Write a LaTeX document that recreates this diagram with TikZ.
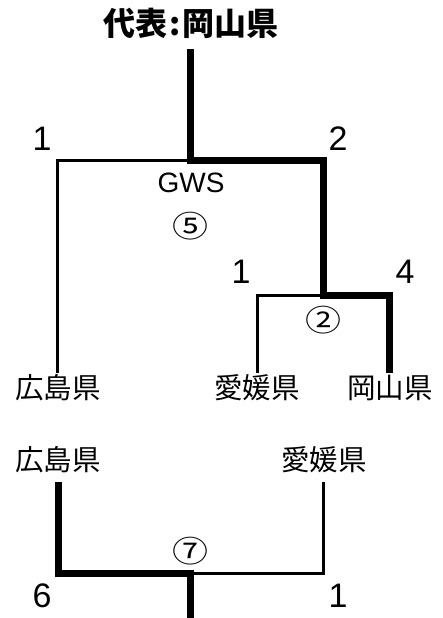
\documentclass[tikz,border=0pt]{standalone}
\usepackage{fontspec}
\setmainfont{Liberation Sans}
\newfontfamily\jp{Noto Sans CJK JP}
\newcommand{\widec}[1]{\scalebox{1.2}[1]{#1}}
\begin{document}
\begin{tikzpicture}[x=1pt,y=-1pt,
  thinln/.style={line width=3pt},
  thickln/.style={line width=7pt},
  num/.style={inner sep=0pt,anchor=base,font=\fontsize{34}{34}\selectfont},
  pref/.style={inner sep=0pt,anchor=base,text height=25pt,text depth=2pt,font=\jp\fontsize{28.5}{28.5}\selectfont},
  prefb/.style={inner sep=0pt,anchor=base,text height=25pt,text depth=12pt,font=\jp\fontsize{28.5}{28.5}\selectfont},
  circ/.style={inner sep=0pt,font=\jp\fontsize{30}{30}\selectfont}]
\useasboundingbox (0,0) rectangle (442,618);
% title
\node[inner sep=0pt,anchor=base,font=\jp\bfseries\fontsize{32}{32}\selectfont] (title) at (191,36) {代表\hspace{2pt}:\hspace{2pt}岡山県};
% first bracket
\coordinate (top) at (190,49);
\coordinate (j1) at (190,160);
\coordinate (l1) at (57,160);
\coordinate (r1) at (323,160);
\coordinate (j2) at (323,295);
\coordinate (l2) at (257,295);
\coordinate (r2) at (389,295);
\node[pref] (hiro1) at (58,398) {広島県};
\node[pref] (ehime1) at (257,398) {愛媛県};
\node[pref] (oka1) at (390,398) {岡山県};
\draw[thinln] (hiro1.north -| l1) -- (l1) -- (j1);
\draw[thinln] (ehime1.north -| l2) -- (l2) -- (j2);
\draw[thickln] (top) -- (j1) -- (r1) -- (j2) -- (r2) -- (oka1.north -| r2);
\node[num] (n1a) at (42,150) {1};
\node[num] (n2) at (338,150) {2};
\node[num] (n1b) at (241,283) {1};
\node[num] (n4) at (405,283) {4};
\node[inner sep=0pt,anchor=base,font=\fontsize{28}{28}\selectfont] (gws) at (191,192) {GWS};
\node[circ] (c5) at (190,226) {\widec{⑤}};
\node[circ] (c2) at (323,320) {\widec{②}};
% second bracket
\node[prefb] (hiro2) at (58,470) {広島県};
\node[prefb] (ehime2) at (324,470) {愛媛県};
\coordinate (j3) at (190,573);
\coordinate (r3) at (323,573);
\coordinate (bot) at (190,618);
\draw[thinln] (ehime2.south -| r3) -- (r3) -- (j3);
\draw[thickln] (hiro2.south) -- (hiro2.south |- j3) -- (j3);
\draw[thickln] (j3 |- 0,569.5) -- (bot);
\node[circ] (c7) at (190,551) {\widec{⑦}};
\node[num] (n6) at (42,607) {6};
\node[num] (n1c) at (338,607) {1};
\end{tikzpicture}
\end{document}
